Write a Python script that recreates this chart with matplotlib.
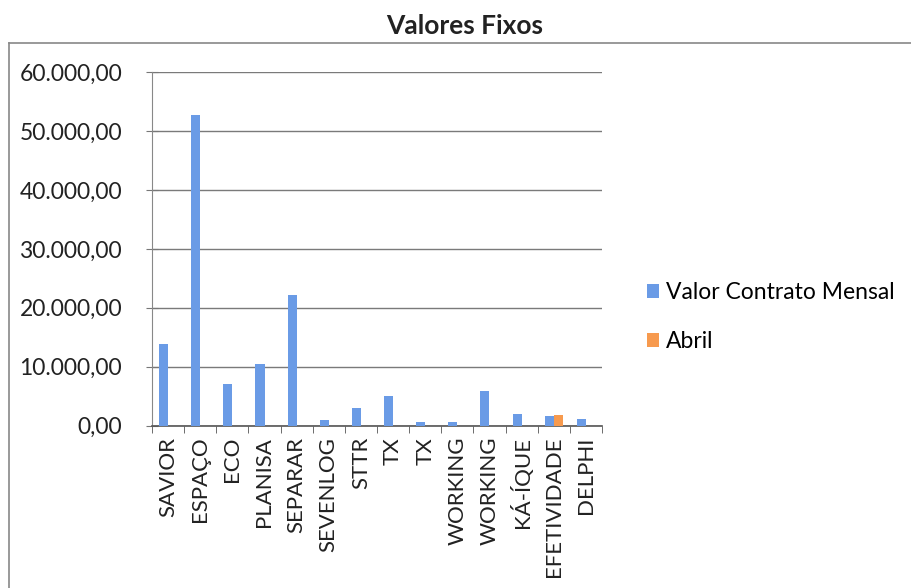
import numpy as np
import matplotlib.pyplot as plt
from matplotlib.lines import Line2D
from matplotlib.ticker import FuncFormatter

plt.rcParams['font.family'] = ['Lato', 'DejaVu Sans']

categorias = ['SAVIOR', 'ESPAÇO', 'ECO', 'PLANISA', 'SEPARAR', 'SEVENLOG', 'STTR',
              'TX', 'TX', 'WORKING', 'WORKING', 'KÁ-ÍQUE', 'EFETIVIDADE', 'DELPHI']
valor_contrato = [13800, 52650, 7000, 10450, 22200, 950, 3050,
                  5050, 550, 550, 5850, 2000, 1700, 1150]
abril = [0, 0, 0, 0, 0, 0, 0, 0, 0, 0, 0, 0, 1750, 0]

azul = '#6A9BE6'
laranja = '#F79A4E'


def fmt_br(v, pos):
    s = f'{v:,.2f}'
    return s.replace(',', 'X').replace('.', ',').replace('X', '.')


fig = plt.figure(figsize=(9.11, 5.88), dpi=100)
ax = fig.add_axes([152 / 911, 1 - 425.7 / 588, 450 / 911, (425.7 - 72) / 588])

x = np.arange(len(categorias))
w = 0.28
ax.bar(x - w / 2, valor_contrato, w, color=azul, label='Valor Contrato Mensal', zorder=3)
ax.bar(x + w / 2, abril, w, color=laranja, label='Abril', zorder=3)

ax.set_xlim(-0.5, len(categorias) - 0.5)
ax.set_ylim(0, 60000)
ax.set_yticks(np.arange(0, 60001, 10000))
ax.yaxis.set_major_formatter(FuncFormatter(fmt_br))
ax.grid(axis='y', color='#7a7a7a', linewidth=1.0, zorder=0)

ax.set_xticks(x)
ax.set_xticklabels(categorias, rotation=90)
ax.set_xticks(np.arange(-0.5, len(categorias), 1), minor=True)
ax.tick_params(axis='x', which='major', length=0, pad=8, labelsize=16, colors='#222222')
ax.tick_params(axis='x', which='minor', length=5, direction='out', color='#555555')
ax.tick_params(axis='y', length=9, direction='inout', pad=17, labelsize=16.5,
               colors='#222222', color='#777777')

for s in ['top', 'right']:
    ax.spines[s].set_visible(False)
ax.spines['left'].set_color('#888888')
ax.spines['bottom'].set_color('#555555')
ax.spines['bottom'].set_linewidth(1.2)

fig.text(465 / 911, 1 - 26 / 588, 'Valores Fixos', ha='center', va='center',
         fontsize=19, fontweight='bold', color='#222222')

ax.legend(loc='center left', bbox_to_anchor=(626 / 911, 1 - 317 / 588),
          bbox_transform=fig.transFigure, frameon=False, fontsize=16.5,
          handlelength=0.55, handleheight=0.55, handletextpad=0.3, labelspacing=1.2)

# moldura do gráfico
fig.add_artist(Line2D([9 / 911, 1], [1 - 42.5 / 588, 1 - 42.5 / 588],
                      transform=fig.transFigure, color='#888888', linewidth=1.2))
fig.add_artist(Line2D([9 / 911, 9 / 911], [0, 1 - 42.5 / 588],
                      transform=fig.transFigure, color='#888888', linewidth=1.2))

fig.savefig('out.png', dpi=100)
